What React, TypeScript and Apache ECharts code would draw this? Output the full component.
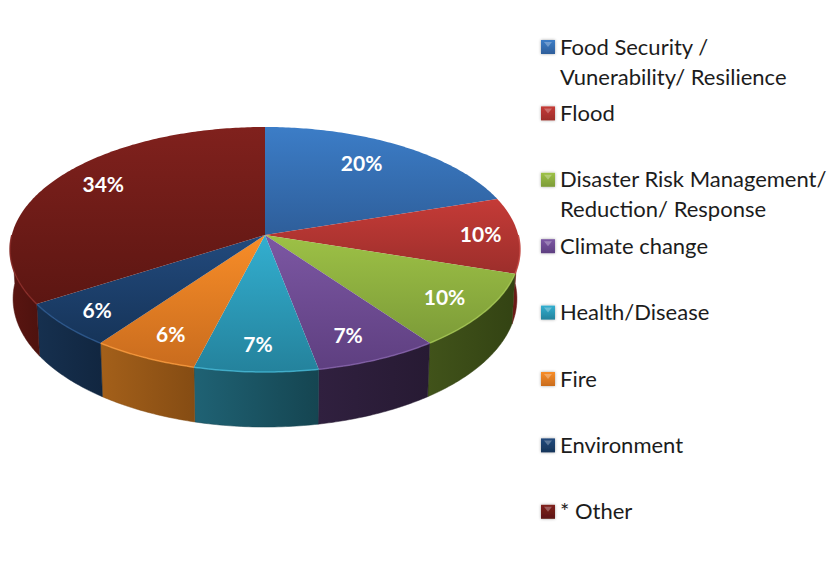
import React, { useEffect, useRef } from "react";
import * as echarts from "echarts";

// Share of each sector, in percent, clockwise from twelve o'clock.
const sectorNames = [
  "Food Security / Vunerability/ Resilience",
  "Flood",
  "Disaster Risk Management/ Reduction/ Response",
  "Climate change",
  "Health/Disease",
  "Fire",
  "Environment",
  "* Other",
];
const sectorValues = [20, 10, 10, 7, 7, 6, 6, 34];

const legendLines = [
  ["Food Security /", "Vunerability/ Resilience"],
  ["Flood"],
  ["Disaster Risk Management/", "Reduction/ Response"],
  ["Climate change"],
  ["Health/Disease"],
  ["Fire"],
  ["Environment"],
  ["* Other"],
];

const topLight = ["#3C7DC7", "#C53B37", "#9DC146", "#7C57A3", "#33AFD0", "#F88D28", "#224A7D", "#80211D"];
const topDark = ["#2E5E9A", "#9C2E2B", "#7C9B38", "#5E3F80", "#24829C", "#C96C1E", "#163459", "#5C1612"];
const rimLight = ["#4A8AD2", "#D2504B", "#A9CC55", "#8A66B0", "#45BCDB", "#FF9E3D", "#2C5A92", "#8E2C28"];
const sideLeft = ["#2A4F80", "#701B18", "#41531A", "#30203F", "#1F6274", "#A4601A", "#16304F", "#5A1511"];
const sideRight = ["#234268", "#651815", "#334313", "#271A33", "#154551", "#854C13", "#112640", "#4E120E"];

// Nudges that set each percentage apart from its default spot on the sector.
const labelNudgeX = [-14, 13, 6, -5, 0, 0, -10, 8];
const labelNudgeY = [0, -2, 1, 2, 2, 3, 4, -7];

// Perspective disc: apex, half-axes and foreshortening of the top face.
const APEX_X = 265;
const APEX_Y = 235;
const AXIS_X = 253.2;
const AXIS_Y = 120.8;
const TILT = 0.1184;
const THICKNESS = 48.5;
const BASE_SHRINK = 0.988;

const total = sectorValues.reduce((a, b) => a + b, 0);
const toAngle = (cumulative: number) => (cumulative / total) * Math.PI * 2;
const startOf = (i: number) => sectorValues.slice(0, i).reduce((a, b) => a + b, 0);

function topPoint(theta: number, r = 1): [number, number] {
  const w = 1 + TILT * r * Math.cos(theta);
  return [APEX_X + (AXIS_X * r * Math.sin(theta)) / w, APEX_Y - (AXIS_Y * r * Math.cos(theta)) / w];
}

function basePoint(theta: number): [number, number] {
  const [x, y] = topPoint(theta);
  const w = 1 + TILT * Math.cos(theta);
  return [APEX_X + (x - APEX_X) * BASE_SHRINK, y + THICKNESS / w];
}

function arc(from: number, to: number, project: (t: number) => [number, number]) {
  const steps = Math.max(2, Math.ceil((to - from) / (Math.PI / 240)));
  const pts: [number, number][] = [];
  for (let k = 0; k <= steps; k++) pts.push(project(from + ((to - from) * k) / steps));
  return pts;
}

const vertical = (a: string, b: string) =>
  new echarts.graphic.LinearGradient(0, 0, 0, 1, [
    { offset: 0, color: a },
    { offset: 1, color: b },
  ]);
const horizontal = (a: string, b: string) =>
  new echarts.graphic.LinearGradient(0, 0, 1, 0, [
    { offset: 0, color: a },
    { offset: 1, color: b },
  ]);

// Wall of the disc; only the stretch facing the viewer is ever seen.
function renderSide(params: any) {
  const i = params.dataIndex;
  const from = Math.max(toAngle(startOf(i)), Math.PI / 2);
  const to = Math.min(toAngle(startOf(i + 1)), (Math.PI * 3) / 2);
  if (to <= from) return { type: "group", children: [] };
  const points = [...arc(from, to, topPoint), ...arc(from, to, basePoint).reverse()];
  return {
    type: "polygon",
    shape: { points },
    style: { fill: horizontal(sideLeft[i], sideRight[i]), stroke: sideRight[i], lineWidth: 0.5 },
  };
}

function renderTop(params: any) {
  const i = params.dataIndex;
  const from = toAngle(startOf(i));
  const to = toAngle(startOf(i + 1));
  const rim = arc(from, to, topPoint);
  const children: any[] = [
    {
      type: "polygon",
      shape: { points: [[APEX_X, APEX_Y], ...rim] },
      style: { fill: vertical(topLight[i], topDark[i]) },
    },
  ];
  const frontFrom = Math.max(from, Math.PI / 2);
  const frontTo = Math.min(to, (Math.PI * 3) / 2);
  if (frontTo > frontFrom) {
    children.push({
      type: "polyline",
      shape: { points: arc(frontFrom, frontTo, topPoint) },
      style: { stroke: rimLight[i], lineWidth: 1.5, fill: "none", opacity: 0.75 },
    });
  }
  return { type: "group", children };
}

function renderLabel(params: any) {
  const i = params.dataIndex;
  const mid = toAngle(startOf(i) + sectorValues[i] / 2);
  const [x, y] = topPoint(mid, 0.8);
  return {
    type: "text",
    x: x + labelNudgeX[i],
    y: y + labelNudgeY[i],
    style: {
      text: `${sectorValues[i]}%`,
      fill: "#ffffff",
      font: 'bold 21px Lato, "Noto Sans", sans-serif',
      align: "center",
      verticalAlign: "middle",
    },
  };
}

// Bevelled key squares with the sector names beside them, evenly spaced.
function buildLegend() {
  const out: any[] = [];
  legendLines.forEach((lines, i) => {
    const cy = 47 + i * 66.4;
    out.push({
      type: "rect",
      shape: { x: 541, y: cy - 7, width: 14, height: 14 },
      style: {
        fill: vertical(topLight[i], topDark[i]),
        shadowBlur: 3,
        shadowColor: "rgba(0,0,0,0.35)",
      },
    });
    out.push({
      type: "polygon",
      shape: { points: [[544, cy - 5], [552, cy - 5], [548, cy]] },
      style: { fill: "rgba(255,255,255,0.28)" },
    });
    lines.forEach((line, k) => {
      out.push({
        type: "text",
        x: 560,
        y: cy - 1 + k * 30,
        style: {
          text: line,
          fill: "#1c1c1c",
          font: '22px Lato, "Noto Sans", sans-serif',
          align: "left",
          verticalAlign: "middle",
        },
      });
    });
  });
  return out;
}

export default function App() {
  const ref = useRef<HTMLDivElement>(null);
  useEffect(() => {
    const chart = echarts.init(ref.current!, undefined, { renderer: "svg" });
    const data = sectorValues.map((value, i) => ({ value, name: sectorNames[i] }));
    chart.setOption({
      animation: false,
      backgroundColor: "#ffffff",
      graphic: buildLegend(),
      series: [
        { type: "custom", coordinateSystem: "none", z: 1, data, renderItem: renderSide, silent: true },
        { type: "custom", coordinateSystem: "none", z: 2, data, renderItem: renderTop, silent: true },
        { type: "custom", coordinateSystem: "none", z: 3, data, renderItem: renderLabel, silent: true },
      ],
    });
    return () => chart.dispose();
  }, []);
  return <div ref={ref} style={{ position: "absolute", left: 0, top: 0, width: 827, height: 576 }} />;
}
